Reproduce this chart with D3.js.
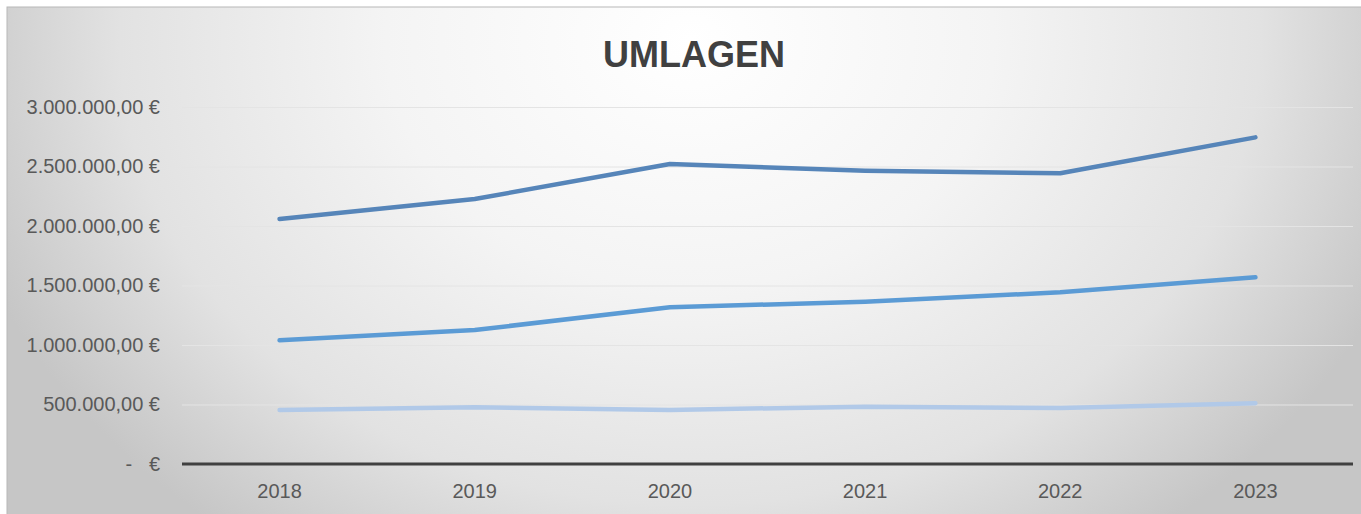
<!DOCTYPE html>
<html>
<head>
<meta charset="utf-8">
<script src="https://cdn.jsdelivr.net/npm/d3@7"></script>
<style>
  body { margin: 0; background: #fff; }
  svg { display: block; }
  .tick text { font-family: "Liberation Sans", Arial, sans-serif; fill: #595959; }
</style>
</head>
<body>
<div id="chart"></div>
<script>
// data
const years = ["2018", "2019", "2020", "2021", "2022", "2023"];
const seriesTop = [2059000, 2227000, 2521000, 2465000, 2443000, 2745000];
const seriesMid = [1039000, 1126000, 1317000, 1364000, 1443000, 1569000];
const seriesLow = [454000, 476000, 454000, 482000, 470000, 510000];
const yTicks = [0, 500000, 1000000, 1500000, 2000000, 2500000, 3000000];
const title = "UMLAGEN";

const series = [
  { name: "seriesLow", values: seriesLow, color: "#b1c9e8" },
  { name: "seriesMid", values: seriesMid, color: "#5b9bd5" },
  { name: "seriesTop", values: seriesTop, color: "#5685b9" }
];

const width = 1361, height = 514;
const margins = { top: 107, bottom: 50, left: 182, right: 8 };

const svg = d3.select("#chart")
  .append("svg")
  .attr("width", width)
  .attr("height", height);

// background: wide radial gradient, white near the title, grey at the sides
const grad = svg.append("defs")
  .append("radialGradient")
  .attr("id", "bg")
  .attr("gradientUnits", "userSpaceOnUse")
  .attr("cx", 0).attr("cy", 0).attr("r", 1)
  .attr("gradientTransform", "translate(690,40) scale(760,620)");
grad.append("stop").attr("offset", 0).attr("stop-color", "#ffffff");
grad.append("stop").attr("offset", 0.4).attr("stop-color", "#f4f4f4");
grad.append("stop").attr("offset", 0.75).attr("stop-color", "#e2e2e2");
grad.append("stop").attr("offset", 1).attr("stop-color", "#c6c6c6");

svg.append("rect")
  .attr("x", 7).attr("y", 7)
  .attr("width", width).attr("height", height)
  .attr("fill", "url(#bg)")
  .attr("stroke", "#b8b8b8")
  .attr("stroke-width", 1);

svg.append("text")
  .attr("x", 694)
  .attr("y", 67)
  .attr("text-anchor", "middle")
  .attr("font-family", "Liberation Sans, Arial, sans-serif")
  .attr("font-weight", "bold")
  .attr("font-size", 36)
  .attr("fill", "#404040")
  .text(title);

const xScale = d3.scaleBand()
  .domain(years)
  .range([margins.left, width - margins.right]);

const yScale = d3.scaleLinear()
  .domain([0, 3000000])
  .range([height - margins.bottom, margins.top]);

const de = d3.formatLocale({
  decimal: ",", thousands: ".", grouping: [3], currency: ["", " €"]
});
const euro = de.format("$,.2f");

// gridlines
svg.append("g")
  .attr("class", "grid")
  .selectAll("line")
  .data(yTicks.filter(d => d > 0))
  .join("line")
  .attr("x1", margins.left)
  .attr("x2", width - margins.right)
  .attr("y1", d => yScale(d) + 0.5)
  .attr("y2", d => yScale(d) + 0.5)
  .attr("stroke", "#e4e4e4")
  .attr("stroke-width", 1);

// y axis labels
const yAxis = d3.axisLeft(yScale)
  .tickValues(yTicks)
  .tickSize(0)
  .tickPadding(22)
  .tickFormat(d => d === 0 ? "-\u00a0\u00a0\u00a0€" : euro(d));

svg.append("g")
  .attr("class", "axis y-axis")
  .attr("transform", `translate(${margins.left},0)`)
  .call(yAxis)
  .call(g => g.select(".domain").remove())
  .selectAll("text")
  .attr("font-size", 20);

// x axis
const xAxis = d3.axisBottom(xScale).tickSize(0).tickPadding(20);

svg.append("g")
  .attr("class", "axis x-axis")
  .attr("transform", `translate(0,${yScale(0)})`)
  .call(xAxis)
  .call(g => g.select(".domain").remove())
  .selectAll("text")
  .attr("font-size", 20);

svg.append("line")
  .attr("x1", margins.left)
  .attr("x2", width - margins.right)
  .attr("y1", yScale(0))
  .attr("y2", yScale(0))
  .attr("stroke", "#404040")
  .attr("stroke-width", 3);

const line = d3.line()
  .x((d, i) => xScale(years[i]) + xScale.bandwidth() / 2)
  .y(d => yScale(d));

svg.append("g")
  .attr("fill", "none")
  .attr("stroke-width", 4.5)
  .attr("stroke-linejoin", "round")
  .attr("stroke-linecap", "round")
  .selectAll("path")
  .data(series)
  .join("path")
  .attr("stroke", d => d.color)
  .attr("d", d => line(d.values));
</script>
</body>
</html>
